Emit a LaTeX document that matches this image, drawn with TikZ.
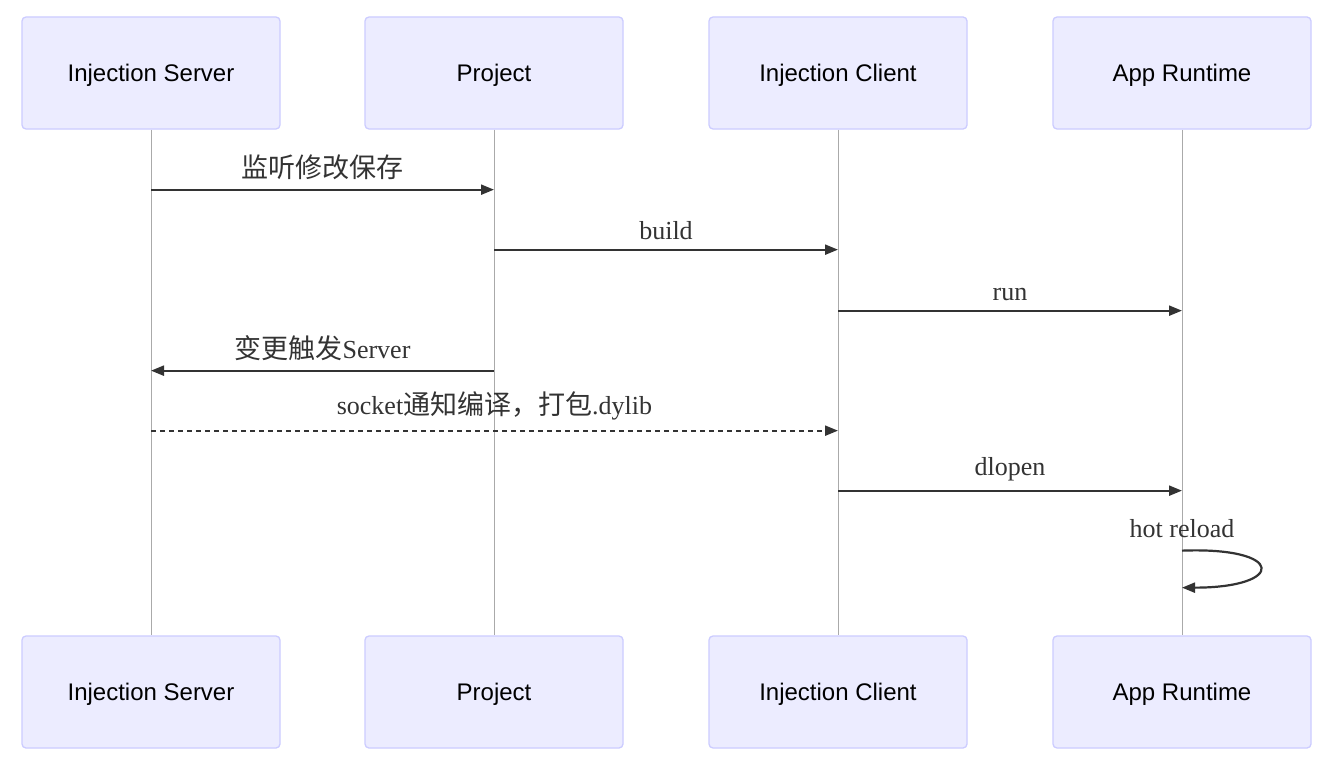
\documentclass[tikz,border=0pt]{standalone}
\usepackage{fontspec}
\setmainfont{Liberation Serif}
\newfontfamily\actorfont{Liberation Sans}
\newfontfamily\cjk{Noto Sans CJK SC}
\usetikzlibrary{arrows.meta,calc}
\definecolor{actorfill}{HTML}{ECECFF}
\definecolor{actorline}{HTML}{CCCCFF}
\definecolor{lifegray}{HTML}{AAAAAA}
\definecolor{msgdark}{HTML}{333333}
\newcommand{\zh}[1]{{\cjk\fontsize{27}{31}\selectfont #1}}

\begin{document}
\begin{tikzpicture}[x=1pt,y=-1pt,
		actor/.style={draw=actorline, fill=actorfill, line width=1.3pt, rounded corners=4pt, text depth=0pt,
			minimum width=258pt, minimum height=112pt, font=\actorfont\fontsize{24}{28}\selectfont},
		life/.style={draw=lifegray, line width=0.9pt},
		msg/.style={draw=msgdark, line width=2.2pt, -{Triangle[length=13pt,width=10pt]}},
		async/.style={dash pattern=on 5pt off 4pt},
		msglabel/.style={font=\fontsize{26}{30}\selectfont, text=msgdark, above, inner sep=2pt, yshift=7pt}]
		\useasboundingbox[fill=white] (0,0) rectangle (1326,760);
		\def\myActors{srv/151/Injection Server, prj/494/Project, cli/838/Injection Client, app/1182/App Runtime}
		\foreach \name/\x/\txt in \myActors {
			\node[actor] (\name) at (\x,73) {\txt};
			\node[actor] (\name B) at (\x,692) {\txt};
			\draw[life] (\name) -- (\name B);
		}
		\def\myMsgs{srv/prj/60/solid/{\zh{监听修改保存}}, prj/cli/120/solid/build, cli/app/181/solid/run,
			prj/srv/241/solid/{\zh{变更触发}Server}, srv/cli/301/async/{socket\zh{通知编译，打包}.dylib},
			cli/app/361/solid/dlopen}
		\foreach \from/\to/\dy/\sty/\txt in \myMsgs
		\draw[msg,\sty] ($(\from.south)+(0,\dy)$) -- node[midway, msglabel] {\txt} ($(\to.south)+(0,\dy)$);
		% self message
		\draw[msg] ($(app.south)+(0,421)$) .. controls +(104,-4) and +(104,0) .. ($(app.south)+(0,458)$);
		\node[msglabel] (reload) at ($(app.south)+(0,417)$) {hot reload};
	\end{tikzpicture}
\end{document}
